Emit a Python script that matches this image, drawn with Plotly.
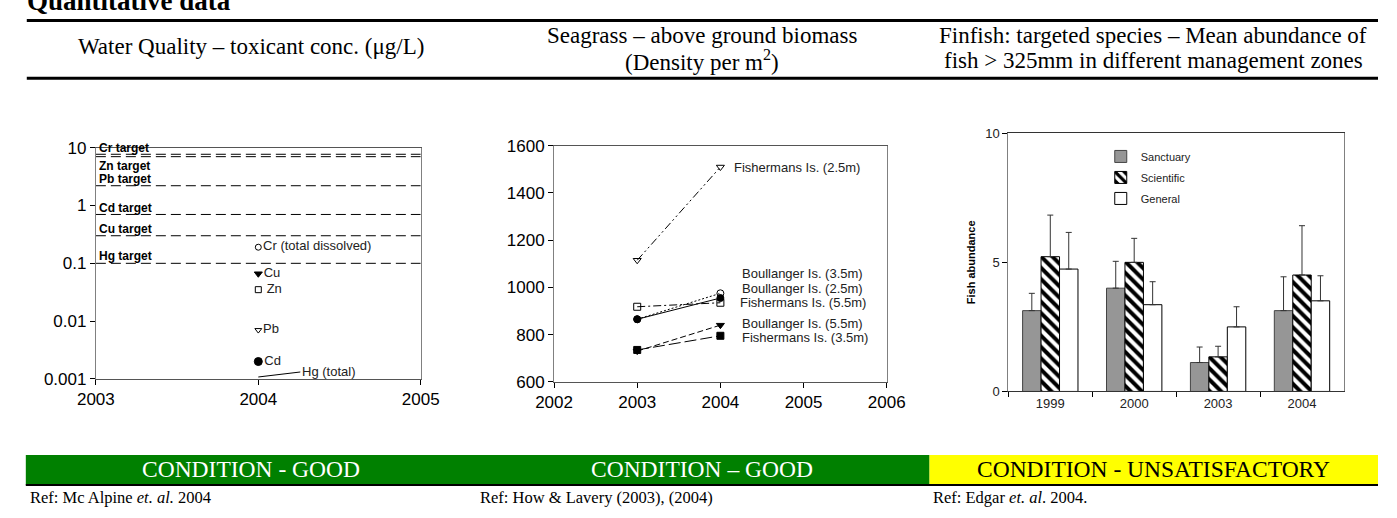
import plotly.graph_objects as go
import numpy as np

W, H = 1397, 518
SERIF = "Times New Roman, Liberation Serif, serif"
SANS = "Arial, Liberation Sans, sans-serif"

# ---------------- Water quality (left) ----------------
wq_target_names = ["Cr target", "Zn target", "Pb target", "Cd target", "Cu target", "Hg target"]
wq_target_values = [7.7, 7.0, 2.2, 0.7, 0.3, 0.1]
wq_target_label_y = [10.0, 4.8, 2.93, 0.89, 0.40, 0.136]
wq_metals = ["Cr (total dissolved)", "Cu", " Zn", "Pb", "Cd"]
wq_values = [0.19, 0.066, 0.035, 0.007, 0.002]
wq_symbols = ["circle-open", "triangle-down", "square-open", "triangle-down-open", "circle"]
wq_sizes = [6, 7, 6, 6, 8]
wq_year = 2004
hg_label = "Hg (total)"
hg_value = 0.00108
wq_xrange = [2003, 2005]
wq_xticks = [2003, 2004, 2005]
wq_yticks = [0.001, 0.01, 0.1, 1, 10]
wq_yticktext = ["0.001", "0.01", "0.1", "1", "10"]

# ---------------- Seagrass (middle) ----------------
sg_years = [2003, 2004]
sg_sites = ["Fishermans Is. (2.5m)", "Boullanger Is. (3.5m)", "Boullanger Is. (2.5m)",
            "Fishermans Is. (5.5m)", "Boullanger Is. (5.5m)", "Fishermans Is. (3.5m)"]
sg_fish_25 = [1115, 1510]
sg_boul_35 = [865, 955]
sg_boul_25 = [865, 975]
sg_fish_55 = [918, 935]
sg_boul_55 = [730, 840]
sg_fish_35 = [735, 795]
sg_label_x = [2004.14, 2004.23, 2004.23, 2004.21, 2004.23, 2004.23]
sg_label_y = [1506, 1057, 996, 935, 845, 788]
sg_symbols = ["triangle-down-open", "circle", "circle-open", "square-open", "triangle-down", "square"]
sg_dashes = ["8px,3px,2px,3px,2px,3px", "solid", "2px,2px", "8px,3px,2px,3px", "6px,3px", "12px,4px"]

# ---------------- Finfish (right) ----------------
fish_years = ["1999", "2000", "2003", "2004"]
sanctuary = [3.13, 4.0, 1.12, 3.13]
sanctuary_err = [0.67, 1.04, 0.60, 1.31]
scientific = [5.22, 5.0, 1.34, 4.51]
scientific_err = [1.61, 0.93, 0.41, 1.91]
general = [4.74, 3.36, 2.5, 3.51]
general_err = [1.42, 0.89, 0.78, 0.97]

# ---------------- page text ----------------
page_title = "Quantitative data"
headers = [
    ["Water Quality \u2013 toxicant conc. (\u03bcg/L)"],
    ["Seagrass \u2013 above ground biomass", "(Density per m<sup>2</sup>)"],
    ["Finfish: targeted species \u2013 Mean abundance of", "fish > 325mm in different management zones"],
]
conditions = ["CONDITION - GOOD", "CONDITION \u2013 GOOD", "CONDITION - UNSATISFACTORY"]
refs = ["Ref: Mc Alpine <i>et. al.</i> 2004", "Ref: How & Lavery (2003), (2004)",
        "Ref: Edgar <i>et. al</i>. 2004."]


def px(x):
    return x / W


def py(y):
    return 1 - y / H


fig = go.Figure()

# ---- left chart traces ----
for name, v in zip(wq_target_names, wq_target_values):
    fig.add_trace(go.Scatter(x=wq_xrange, y=[v, v], mode="lines", xaxis="x", yaxis="y",
                             line=dict(color="black", width=1, dash="10px,5px"),
                             showlegend=False, hoverinfo="skip"))
for name, v, s, sz in zip(wq_metals, wq_values, wq_symbols, wq_sizes):
    fig.add_trace(go.Scatter(x=[wq_year], y=[v], mode="markers+text", text=[name],
                             textposition="middle right", xaxis="x", yaxis="y",
                             textfont=dict(family=SANS, size=13, color="#222"),
                             marker=dict(symbol=s, size=sz, color="black",
                                         line=dict(color="black", width=1)),
                             showlegend=False))

# ---- middle chart traces ----
sg_series = [sg_fish_25, sg_boul_35, sg_boul_25, sg_fish_55, sg_boul_55, sg_fish_35]
order = [1, 0, 3, 2, 4, 5]
for i in order:
    fig.add_trace(go.Scatter(x=sg_years, y=sg_series[i], mode="lines+markers", xaxis="x2", yaxis="y2",
                             name=sg_sites[i],
                             line=dict(color="black", width=1, dash=sg_dashes[i]),
                             marker=dict(symbol=sg_symbols[i], size=7, color="black",
                                         line=dict(color="black", width=1)),
                             showlegend=False))

# ---- right chart traces ----
err_style = dict(type="data", symmetric=False, color="#333", thickness=1, width=3)
fig.add_trace(go.Bar(x=fish_years, y=sanctuary, name="Sanctuary", xaxis="x3", yaxis="y3",
                     marker=dict(color="#969696", line=dict(color="#444", width=1)),
                     error_y=dict(array=sanctuary_err, arrayminus=[0] * 4, **err_style),
                     legendgroup="a"))
fig.add_trace(go.Bar(x=fish_years, y=scientific, name="Scientific", xaxis="x3", yaxis="y3",
                     marker=dict(color="white", line=dict(color="black", width=1),
                                 pattern=dict(shape="\\", fgcolor="black", bgcolor="white",
                                              size=8, solidity=0.5, fillmode="replace")),
                     error_y=dict(array=scientific_err, arrayminus=[0] * 4, **err_style),
                     legendgroup="b"))
fig.add_trace(go.Bar(x=fish_years, y=general, name="General", xaxis="x3", yaxis="y3",
                     marker=dict(color="white", line=dict(color="black", width=1)),
                     error_y=dict(array=general_err, arrayminus=[0] * 4, **err_style),
                     legendgroup="c"))

ann = []
# left chart target labels
for name, yv in zip(wq_target_names, wq_target_label_y):
    ann.append(dict(x=2003.01, y=np.log10(yv), xref="x", yref="y", text=name, showarrow=False,
                    xanchor="left", yanchor="middle",
                    font=dict(family=SANS, size=12, color="black", weight="bold")))
# Hg leader
ann.append(dict(x=wq_year, y=np.log10(hg_value), xref="x", yref="y", text=hg_label,
                showarrow=True, arrowhead=0, arrowwidth=1, arrowcolor="black",
                ax=42, ay=-5, axref="pixel", ayref="pixel", xanchor="left", standoff=0,
                font=dict(family=SANS, size=13, color="#222")))
# middle labels
for name, lx, ly in zip(sg_sites, sg_label_x, sg_label_y):
    ann.append(dict(x=lx, y=ly, xref="x2", yref="y2", text=name, showarrow=False,
                    xanchor="left", yanchor="middle", font=dict(family=SANS, size=13, color="#222")))

# page title (cut at the top edge, as in the source)
ann.append(dict(x=px(6), y=py(9), xref="paper", yref="paper", text="<b>" + page_title + "</b>",
                showarrow=False, xanchor="left", yanchor="bottom",
                font=dict(family=SERIF, size=27, color="black")))
# headers, centred in three equal table columns
col_centres = [238, 702, 1166]
for cx, lines in zip(col_centres, headers):
    ys = [39] if len(lines) == 1 else [28, 53]
    for t, yy in zip(lines, ys):
        ann.append(dict(x=px(cx), y=py(yy), xref="paper", yref="paper", text=t, showarrow=False,
                        xanchor="center", yanchor="middle",
                        font=dict(family=SERIF, size=23, color="black")))
# conditions
cond_col = ["white", "white", "black"]
for cx, t, c in zip(col_centres, conditions, cond_col):
    ann.append(dict(x=px(cx), y=py(478), xref="paper", yref="paper", text=t, showarrow=False,
                    xanchor="center", yanchor="middle", font=dict(family=SERIF, size=23.5, color=c)))
ref_x = [9, 472, 937]
for rx, t in zip(ref_x, refs):
    ann.append(dict(x=px(rx), y=py(507), xref="paper", yref="paper", text=t, showarrow=False,
                    xanchor="left", yanchor="middle", font=dict(family=SERIF, size=16.5, color="black")))

shapes = [
    dict(type="line", xref="paper", yref="paper", x0=px(8), x1=1, y0=py(12), y1=py(12),
         line=dict(color="black", width=3)),
    dict(type="line", xref="paper", yref="paper", x0=px(8), x1=1, y0=py(72), y1=py(72),
         line=dict(color="black", width=3)),
    dict(type="rect", xref="paper", yref="paper", x0=px(7), x1=px(936), y0=py(494), y1=py(463),
         fillcolor="#008000", line=dict(width=0), layer="below"),
    dict(type="rect", xref="paper", yref="paper", x0=px(936), x1=1, y0=py(494), y1=py(463),
         fillcolor="#FFFF00", line=dict(width=0), layer="below"),
    dict(type="line", xref="paper", yref="paper", x0=px(7), x1=1, y0=py(494), y1=py(494),
         line=dict(color="black", width=2)),
]

tickf = dict(family=SANS, size=17, color="black")
axis_common = dict(showline=True, mirror=True, ticks="outside", ticklen=5, tickcolor="black",
                   showgrid=False, zeroline=False)

fig.update_layout(
    autosize=True, margin=dict(l=0, r=0, t=0, b=0),
    paper_bgcolor="white", plot_bgcolor="white",
    annotations=ann, shapes=shapes,
    barmode="group", bargap=0.34, bargroupgap=0,
    legend=dict(x=px(1112), y=py(138), xanchor="left", yanchor="top", bgcolor="rgba(0,0,0,0)",
                font=dict(family=SANS, size=11, color="#222"), tracegroupgap=2,
                itemwidth=30),
    xaxis=dict(domain=[px(79), px(413)], range=wq_xrange, tickvals=wq_xticks, anchor="y",
               linecolor="#555", tickfont=tickf, **axis_common),
    yaxis=dict(domain=[py(384), py(144)], type="log", range=[-3, 1], tickvals=wq_yticks,
               ticktext=wq_yticktext, anchor="x", linecolor="#808080", tickfont=tickf, **axis_common),
    xaxis2=dict(domain=[px(550), px(892)], range=[2002, 2006], dtick=1, anchor="y2",
                linecolor="#555", tickfont=tickf, **axis_common),
    yaxis2=dict(domain=[py(387), py(142)], range=[600, 1600], dtick=200, anchor="x2",
                linecolor="#808080", tickfont=tickf, **axis_common),
    xaxis3=dict(domain=[px(1017), px(1362)], type="category", tickson="boundaries", anchor="y3",
                linecolor="#333", tickfont=dict(family=SANS, size=13, color="#222"), **axis_common),
    yaxis3=dict(domain=[py(397), py(129)], range=[0, 10], tickvals=[0, 5, 10], anchor="x3",
                linecolor="#808080", tickfont=dict(family=SANS, size=13, color="#222"),
                title=dict(text="<b>Fish abundance</b>", standoff=7,
                           font=dict(family=SANS, size=11, color="black")),
                **axis_common),
)

post = ("document.documentElement.style.margin='0';document.documentElement.style.padding='0';"
        "document.body.style.margin='0';document.body.style.padding='0';"
        "document.body.style.overflow='hidden';"
        "var gd=document.getElementById('{plot_id}');Plotly.Plots.resize(gd);")
fig.write_html("out.html", default_width="100vw", default_height="100vh",
               config={"responsive": True, "displayModeBar": False}, post_script=post)
